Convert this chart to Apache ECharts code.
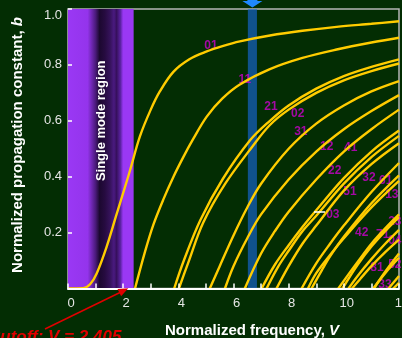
<!DOCTYPE html>
<html><head><meta charset="utf-8">
<script src="https://cdn.jsdelivr.net/npm/echarts@6/dist/echarts.min.js"></script>
<style>html,body{margin:0;padding:0;background:#032d03;}#c{width:402px;height:338px;}</style>
</head><body><div id="c"></div>
<script>
// ---- axis / annotation values ----
const xLabelValues = [0, 2, 4, 6, 8, 10, 12];
const singleModeRange = [0, 2.38];
const markerBand = [6.52, 6.85];

// ---- LP mode curves: [V, b] ----
const lp01 = [[0,0],[0.55,0.001],[0.8,0.015],[1.04,0.054],[1.4,0.149],[1.76,0.265],[2.07,0.364],[2.25,0.423],[2.61,0.545],[3.0,0.64],[3.33,0.705],[3.82,0.775],[4.4,0.82],[5.03,0.848],[5.6,0.867],[6.23,0.884],[7.32,0.905],[8.5,0.922],[9.74,0.936],[11,0.947],[12,0.956]];
const lp11 = [[2.43,0],[2.79,0.131],[3.09,0.227],[3.45,0.317],[3.82,0.399],[4.18,0.47],[4.54,0.535],[5.03,0.615],[5.6,0.68],[6.23,0.73],[7.32,0.785],[8.5,0.825],[9.74,0.855],[11,0.88],[12,0.897]];
const lp21 = [[3.85,0],[4.2,0.1],[4.8,0.245],[5.6,0.39],[6.6,0.53],[7.32,0.6],[8.0,0.655],[9.0,0.715],[10,0.76],[11,0.793],[12,0.82]];
const lp02 = [[4.02,0],[4.35,0.09],[4.9,0.235],[5.7,0.375],[6.7,0.51],[7.32,0.585],[8.0,0.64],[9.0,0.7],[10,0.745],[11,0.778],[12,0.805]];
const lp31 = [[5.14,0],[5.5,0.08],[6.0,0.19],[6.5,0.29],[7.0,0.375],[8.0,0.5],[9.0,0.59],[10,0.655],[11,0.705],[12,0.742]];
const lp12 = [[5.69,0],[6.0,0.08],[6.5,0.18],[7.0,0.265],[8.0,0.39],[9.0,0.49],[10,0.57],[11,0.635],[12,0.692]];
const lp41 = [[6.41,0],[7.0,0.125],[7.5,0.205],[8.0,0.275],[9.0,0.39],[10,0.49],[11,0.57],[12,0.64]];
const lp22 = [[7.02,0],[7.5,0.085],[8.0,0.155],[8.5,0.22],[9.0,0.28],[10,0.395],[11,0.49],[12,0.565]];
const lp03 = [[7.2,0],[7.6,0.075],[8.0,0.135],[8.5,0.205],[9.0,0.26],[10,0.375],[11,0.47],[12,0.546]];
const lp51 = [[7.56,0],[8.0,0.08],[8.5,0.16],[9.0,0.225],[10,0.35],[11,0.445],[12,0.52]];
const lp32 = [[8.47,0],[9.0,0.09],[9.5,0.16],[10,0.225],[11,0.345],[12,0.449]];
const lp13 = [[8.7,0],[9.0,0.055],[9.5,0.12],[10,0.18],[11,0.29],[12,0.385]];
const lp61 = [[8.83,0],[9.2,0.065],[9.5,0.115],[10,0.185],[11,0.305],[12,0.405]];
const lp42 = [[9.8,0],[10.2,0.055],[10.5,0.095],[11,0.16],[11.5,0.215],[12,0.265]];
const lp71 = [[9.95,0],[10.5,0.085],[11,0.15],[11.5,0.205],[12,0.255]];
const lp23 = [[10.17,0],[10.5,0.045],[11,0.105],[11.5,0.16],[12,0.21]];
const lp04 = [[10.3,0],[10.6,0.035],[11,0.08],[11.5,0.13],[12,0.175]];
const lp52 = [[11.07,0],[11.5,0.055],[12,0.11]];
const lp81 = [[11.09,0],[11.5,0.06],[12,0.125]];
const lp33 = [[11.62,0],[12,0.045]];
const lp14 = [[11.79,0],[12,0.02]];
const modeCurves = [lp01,lp11,lp21,lp02,lp31,lp12,lp41,lp22,lp03,lp51,lp32,lp13,lp61,lp42,lp71,lp23,lp04,lp52,lp81,lp33,lp14];

// ---- mode labels ----
const labelNames = ['01','11','21','02','31','12','41','22','32','61','51','13','03','23','42','71','04','81','52','33'];
const labelV = [5.18,6.41,7.36,8.33,8.44,9.38,10.25,9.67,10.91,11.52,10.22,11.74,9.60,11.85,10.65,11.41,11.85,11.2,11.85,11.49];
const labelB = [0.870,0.748,0.652,0.627,0.5625,0.509,0.505,0.423,0.395,0.3875,0.345,0.334,0.2625,0.2375,0.198,0.191,0.17,0.073,0.084,0.0125];

const chart = echarts.init(document.getElementById('c'), null, {renderer:'canvas'});
const bg = '#032d03';
const curveSeries = modeCurves.map(d => ({
  type:'line', data:d, smooth:0.35, showSymbol:false, symbol:'none', z:4, silent:true,
  lineStyle:{color:'#ffcc00', width:2.4}
}));
const option = {
  backgroundColor: bg,
  animation:false,
  grid:{left:68, right:3, top:9, bottom:49.5, show:true, borderColor:'#b5b5b5', borderWidth:1.5,
    containLabel:false, outerBoundsMode:'none'},
  xAxis:{type:'value', min:0, max:12, interval:1, z:10,
    axisLine:{lineStyle:{color:'#ffffff', width:2}},
    axisTick:{inside:true, length:5, lineStyle:{color:'#ffffff', width:1.5}},
    axisLabel:{color:'#e6e6e6', fontSize:13, fontFamily:'Arial', margin:8, padding:[0,0,0,6],
      formatter:v => xLabelValues.indexOf(v) >= 0 ? String(v) : ''},
    splitLine:{show:false}},
  yAxis:{type:'value', min:0, max:1, interval:0.2, z:10,
    axisLine:{show:false},
    axisTick:{inside:true, length:4, lineStyle:{color:'#ffffff', width:1.5}},
    axisLabel:{color:'#e6e6e6', fontSize:13, fontFamily:'Arial', margin:6, verticalAlignMaxLabel:'top',
      formatter:v => v === 0 ? '' : v.toFixed(1)},
    splitLine:{show:false}},
  series:[
    {type:'line', data:[[0,0]], symbol:'none', lineStyle:{opacity:0}, z:1, silent:true,
      markArea:{silent:true, itemStyle:{color:{type:'linear', x:0, y:0, x2:1, y2:0, colorStops:[
        {offset:0, color:'#9a38f4'},{offset:0.3, color:'#9434ec'},{offset:0.42, color:'#4a1a7a'},
        {offset:0.48, color:'#1c0830'},{offset:0.56, color:'#260b40'},{offset:0.64, color:'#35125a'},
        {offset:0.7, color:'#4a1a80'},{offset:0.74, color:'#36105c'},{offset:0.8, color:'#5c22a4'},
        {offset:0.84, color:'#9a38f4'},{offset:1, color:'#9a38f4'}]}},
        data:[[{xAxis:singleModeRange[0], yAxis:0},{xAxis:singleModeRange[1], yAxis:1}]]}},
    {type:'scatter', data:labelNames.map((n,i)=>[labelV[i], labelB[i], n]), symbolSize:0, z:3, silent:true,
      label:{show:true, position:'inside', formatter:p=>p.data[2], color:'#cc00cc', fontWeight:'bold', fontSize:12, fontFamily:'Arial'}},
    ...curveSeries,
    {type:'line', data:[[0,0]], symbol:'none', lineStyle:{opacity:0}, z:6, silent:true,
      markArea:{silent:true, itemStyle:{color:'rgba(25,105,225,0.62)'},
        data:[[{xAxis:markerBand[0], yAxis:0},{xAxis:markerBand[1], yAxis:1}]]}}
  ]
};
chart.setOption(option);

const bandTop = chart.convertToPixel({gridIndex:0}, [(markerBand[0]+markerBand[1])/2, 1]);
const smr = chart.convertToPixel({gridIndex:0}, [(singleModeRange[0]+singleModeRange[1])/2, 0.6]);
const bx = bandTop[0];
chart.setOption({graphic:[
  {type:'text', x:18, y:145, rotation:Math.PI/2, z:20,
    style:{text:'{n|Normalized propagation constant, }{i|b}', align:'center', verticalAlign:'middle',
      rich:{n:{fill:'#ffffff', font:'bold 15px Arial'}, i:{fill:'#ffffff', font:'italic bold 15px Arial'}}}},
  {type:'text', x:252, y:331, z:20,
    style:{text:'{n|Normalized frequency, }{i|V}', align:'center', verticalAlign:'middle',
      rich:{n:{fill:'#ffffff', font:'bold 15px Arial'}, i:{fill:'#ffffff', font:'italic bold 15px Arial'}}}},
  {type:'text', x:smr[0]+1, y:smr[1], rotation:Math.PI/2, z:20,
    style:{text:'Single mode region', fill:'#ffffff', font:'bold 13px Arial', align:'center', verticalAlign:'middle'}},
  {type:'polygon', z:20, shape:{points:[[bx-5,-3],[bx+5,-3],[bx+5,1],[bx+10,1],[bx,7.5],[bx-10,1],[bx-5,1]]}, style:{fill:'#1e88ff'}},
  {type:'line', z:20, shape:{x1:45, y1:329, x2:120, y2:292.5}, style:{stroke:'#e00000', lineWidth:1.5}},
  {type:'polygon', z:20, shape:{points:[[128.3,288.3],[121.1,296.3],[117.5,289.1]]}, style:{fill:'#e00000'}},
  {type:'text', x:-12, y:329, z:20,
    style:{text:'{n|Cutoff: }{n|V}{n| = 2.405}', align:'left', verticalAlign:'top',
      rich:{n:{fill:'#e00000', font:'italic bold 17px Arial'}}}},
  {type:'line', z:20, shape:{x1:314, y1:212, x2:325, y2:212}, style:{stroke:'#ffffff', lineWidth:1.5}}
]});
</script></body></html>
